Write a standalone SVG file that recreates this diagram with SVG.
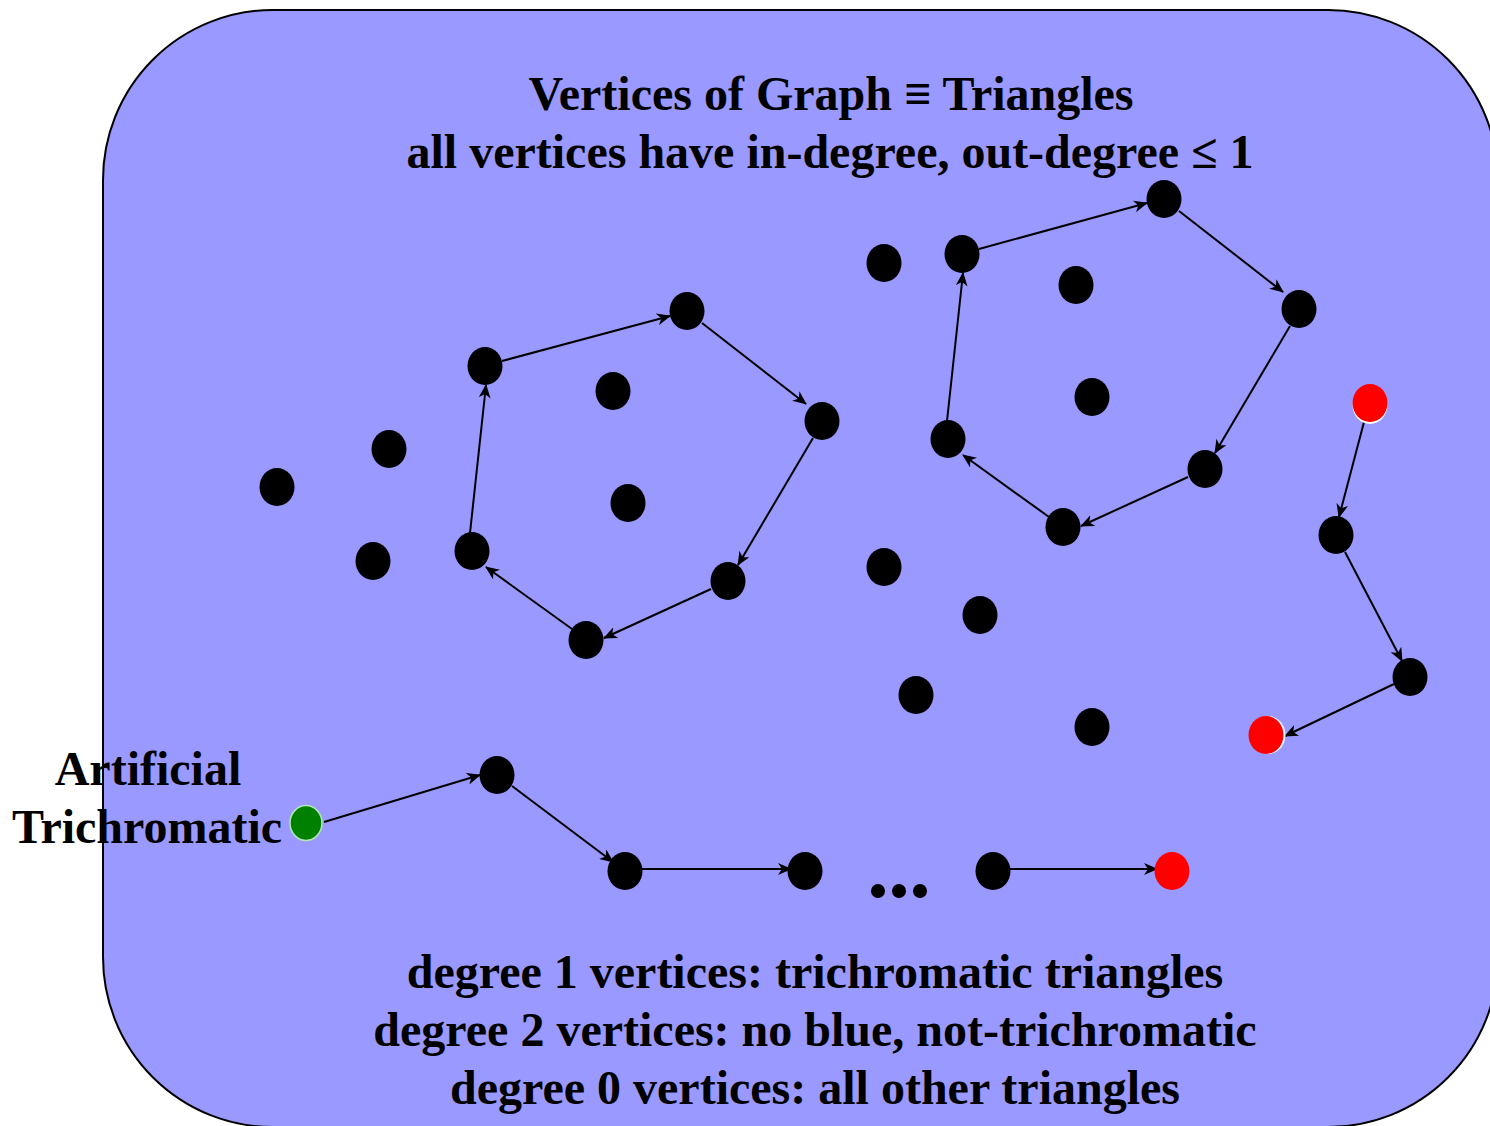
<svg xmlns="http://www.w3.org/2000/svg" width="1490" height="1126" viewBox="0 0 1490 1126">
<defs>
<style>
.bg{fill:#9999ff;stroke:#000;stroke-width:2}
.n{fill:#000}
.r{fill:#ff0000}
.rw{fill:#ffffff}
.g{fill:#008000;stroke:#b3e6b3;stroke-width:1.5}
.e{stroke:#000;stroke-width:2;fill:none;marker-end:url(#ah)}
.t{font-family:"Liberation Serif","Times New Roman",serif;font-weight:bold;font-size:48px;fill:#000;text-anchor:middle}
</style>
<marker id="ah" viewBox="0 0 14 12" refX="13" refY="6" markerWidth="14" markerHeight="12" markerUnits="userSpaceOnUse" orient="auto">
<path d="M0,0 L14,6 L0,12 L4,6 Z" fill="#000"/>
</marker>
</defs>
<rect class="bg" x="103" y="10" width="1395" height="1117" rx="170" ry="170"/>
<g id="title">
<text class="t" x="831" y="110">Vertices of Graph ≡ Triangles</text>
<text class="t" x="830" y="168">all vertices have in-degree, out-degree ≤ 1</text>
</g>
<g id="legend">
<text class="t" x="815" y="988">degree 1 vertices: trichromatic triangles</text>
<text class="t" x="815" y="1046">degree 2 vertices: no blue, not-trichromatic</text>
<text class="t" x="815" y="1104">degree 0 vertices: all other triangles</text>
</g>
<g id="label-artificial">
<text class="t" x="148" y="785">Artificial</text>
<text class="t" x="147" y="843">Trichromatic</text>
</g>
<g id="connectors">
<line class="e" x1="502" y1="361" x2="670" y2="316"/>
<line class="e" x1="702" y1="323" x2="806" y2="404"/>
<line class="e" x1="813" y1="438" x2="738" y2="565"/>
<line class="e" x1="711" y1="589" x2="604" y2="638"/>
<line class="e" x1="572" y1="629" x2="486" y2="567"/>
<line class="e" x1="470" y1="533" x2="486" y2="385"/>
<line class="e" x1="979" y1="249" x2="1147" y2="203"/>
<line class="e" x1="1179" y1="211" x2="1283" y2="292"/>
<line class="e" x1="1290" y1="326" x2="1215" y2="453"/>
<line class="e" x1="1188" y1="477" x2="1081" y2="526"/>
<line class="e" x1="1049" y1="517" x2="963" y2="455"/>
<line class="e" x1="947" y1="421" x2="963" y2="273"/>
<line class="e" x1="1364" y1="422" x2="1339" y2="517"/>
<line class="e" x1="1345" y1="552" x2="1402" y2="661"/>
<line class="e" x1="1394" y1="684" x2="1285" y2="736"/>
<line class="e" x1="324" y1="822" x2="480" y2="775"/>
<line class="e" x1="512" y1="786" x2="613" y2="862"/>
<line class="e" x1="642" y1="869" x2="791" y2="869"/>
<line class="e" x1="1010" y1="869" x2="1157" y2="869"/>
</g>
<g id="cycle1">
<ellipse id="c1a" class="n" cx="485" cy="366" rx="17.5" ry="19"/>
<ellipse id="c1b" class="n" cx="687" cy="311" rx="17.5" ry="19"/>
<ellipse id="c1c" class="n" cx="822" cy="421" rx="17.5" ry="19"/>
<ellipse id="c1d" class="n" cx="728" cy="581" rx="17.5" ry="19"/>
<ellipse id="c1e" class="n" cx="586" cy="640" rx="17.5" ry="19"/>
<ellipse id="c1f" class="n" cx="472" cy="551" rx="17.5" ry="19"/>
</g>
<g id="cycle2">
<ellipse id="c2a" class="n" cx="962" cy="254" rx="17.5" ry="19"/>
<ellipse id="c2b" class="n" cx="1164" cy="199" rx="17.5" ry="19"/>
<ellipse id="c2c" class="n" cx="1299" cy="309" rx="17.5" ry="19"/>
<ellipse id="c2d" class="n" cx="1205" cy="469" rx="17.5" ry="19"/>
<ellipse id="c2e" class="n" cx="1063" cy="527" rx="17.5" ry="19"/>
<ellipse id="c2f" class="n" cx="948" cy="439" rx="17.5" ry="19"/>
</g>
<g id="isolated">
<ellipse class="n" cx="613" cy="391" rx="17.5" ry="19"/>
<ellipse class="n" cx="628" cy="503" rx="17.5" ry="19"/>
<ellipse class="n" cx="389" cy="449" rx="17.5" ry="19"/>
<ellipse class="n" cx="277" cy="487" rx="17.5" ry="19"/>
<ellipse class="n" cx="373" cy="561" rx="17.5" ry="19"/>
<ellipse class="n" cx="1076" cy="285" rx="17.5" ry="19"/>
<ellipse class="n" cx="1092" cy="397" rx="17.5" ry="19"/>
<ellipse class="n" cx="884" cy="263" rx="17.5" ry="19"/>
<ellipse class="n" cx="884" cy="567" rx="17.5" ry="19"/>
<ellipse class="n" cx="980" cy="615" rx="17.5" ry="19"/>
<ellipse class="n" cx="916" cy="695" rx="17.5" ry="19"/>
<ellipse class="n" cx="1092" cy="727" rx="17.5" ry="19"/>
</g>
<g id="chain-right">
<ellipse class="rw" cx="1370" cy="405" rx="17.5" ry="19"/>
<ellipse id="red1" class="r" cx="1370" cy="403" rx="17.5" ry="19"/>
<ellipse id="cr2" class="n" cx="1336" cy="535" rx="17.5" ry="19"/>
<ellipse id="cr3" class="n" cx="1410" cy="677" rx="17.5" ry="19"/>
<ellipse class="rw" cx="1268" cy="735" rx="17.5" ry="19"/>
<ellipse id="red2" class="r" cx="1266" cy="735" rx="17.5" ry="19"/>
</g>
<g id="chain-bottom">
<ellipse id="green" class="g" cx="306" cy="823" rx="16" ry="17.5"/>
<ellipse id="cb2" class="n" cx="497" cy="775" rx="17.5" ry="19"/>
<ellipse id="cb3" class="n" cx="625" cy="871" rx="17.5" ry="19"/>
<ellipse id="cb4" class="n" cx="805" cy="871" rx="17.5" ry="19"/>
<circle class="n" cx="878" cy="891" r="7"/>
<circle class="n" cx="899" cy="891" r="7"/>
<circle class="n" cx="920" cy="891" r="7"/>
<ellipse id="cb5" class="n" cx="993" cy="871" rx="17.5" ry="19"/>
<ellipse id="red3" class="r" cx="1172" cy="871" rx="17.5" ry="19"/>
</g>
</svg>
